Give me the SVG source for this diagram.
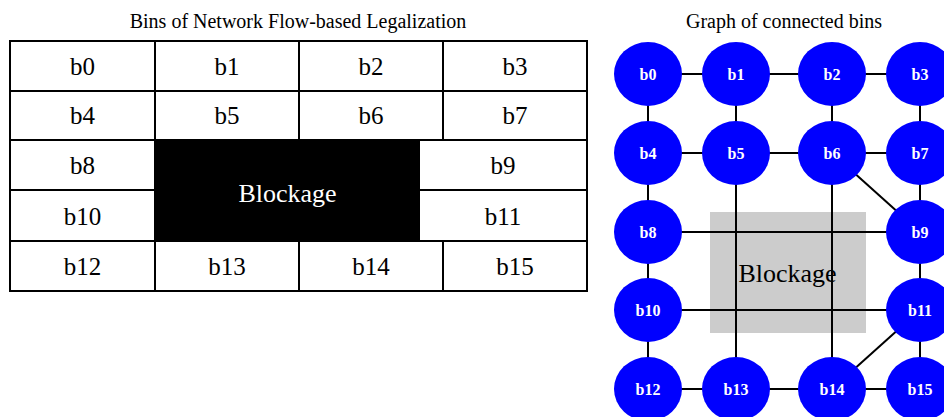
<svg xmlns="http://www.w3.org/2000/svg" width="944" height="417" viewBox="0 0 944 417">
  <style>
    .title { font-family: "Liberation Serif", "Times New Roman", serif; font-size: 20px; fill: #000; text-anchor: middle; }
    .cell rect { fill: #fff; stroke: #000; stroke-width: 2; }
    .cell text { font-family: "Liberation Serif", "Times New Roman", serif; font-size: 25px; fill: #000; text-anchor: middle; }
    .block-text { font-family: "Liberation Serif", "Times New Roman", serif; font-size: 26px; text-anchor: middle; }
    .edges line { stroke: #000; stroke-width: 2; }
    .node ellipse { fill: #0000ff; }
    .node text { font-family: "Liberation Serif", "Times New Roman", serif; font-size: 16px; font-weight: bold; fill: #fff; text-anchor: middle; }
  </style>

  <!-- Left: bin grid -->
  <text class="title" x="298" y="28">Bins of Network Flow-based Legalization</text>
  <g id="grid">
    <g id="cell-b0" class="cell"><rect x="10" y="41" width="145" height="50"/><text x="82.5" y="75">b0</text></g>
    <g id="cell-b1" class="cell"><rect x="155" y="41" width="144" height="50"/><text x="227" y="75">b1</text></g>
    <g id="cell-b2" class="cell"><rect x="299" y="41" width="144" height="50"/><text x="371" y="75">b2</text></g>
    <g id="cell-b3" class="cell"><rect x="443" y="41" width="144" height="50"/><text x="515" y="75">b3</text></g>
    <g id="cell-b4" class="cell"><rect x="10" y="91" width="145" height="49"/><text x="82.5" y="124">b4</text></g>
    <g id="cell-b5" class="cell"><rect x="155" y="91" width="144" height="49"/><text x="227" y="124">b5</text></g>
    <g id="cell-b6" class="cell"><rect x="299" y="91" width="144" height="49"/><text x="371" y="124">b6</text></g>
    <g id="cell-b7" class="cell"><rect x="443" y="91" width="144" height="49"/><text x="515" y="124">b7</text></g>
    <g id="cell-b8" class="cell"><rect x="10" y="140" width="145" height="50"/><text x="82.5" y="174">b8</text></g>
    <g id="cell-b9" class="cell"><rect x="419" y="140" width="168" height="50"/><text x="503" y="174">b9</text></g>
    <g id="cell-b10" class="cell"><rect x="10" y="190" width="145" height="51"/><text x="82.5" y="225">b10</text></g>
    <g id="cell-b11" class="cell"><rect x="419" y="190" width="168" height="51"/><text x="503" y="225">b11</text></g>
    <g id="cell-b12" class="cell"><rect x="10" y="241" width="145" height="50"/><text x="82.5" y="275">b12</text></g>
    <g id="cell-b13" class="cell"><rect x="155" y="241" width="144" height="50"/><text x="227" y="275">b13</text></g>
    <g id="cell-b14" class="cell"><rect x="299" y="241" width="144" height="50"/><text x="371" y="275">b14</text></g>
    <g id="cell-b15" class="cell"><rect x="443" y="241" width="144" height="50"/><text x="515" y="275">b15</text></g>
    <g id="grid-blockage">
      <rect x="154" y="139.5" width="265.5" height="102" fill="#000"/>
      <text class="block-text" x="287.5" y="202" fill="#fff">Blockage</text>
    </g>
  </g>

  <!-- Right: bin connectivity graph -->
  <text class="title" x="784" y="28">Graph of connected bins</text>
  <g id="graph-blockage">
    <rect x="710" y="212" width="156" height="121" fill="#cccccc"/>
  </g>
  <g id="edges" class="edges">
    <line x1="648" y1="74" x2="920" y2="74"/>
    <line x1="648" y1="153" x2="920" y2="153"/>
    <line x1="648" y1="232" x2="920" y2="232"/>
    <line x1="648" y1="310" x2="920" y2="310"/>
    <line x1="648" y1="389" x2="920" y2="389"/>
    <line x1="648" y1="74" x2="648" y2="389"/>
    <line x1="920" y1="74" x2="920" y2="389"/>
    <line x1="736" y1="74" x2="736" y2="389"/>
    <line x1="832" y1="74" x2="832" y2="389"/>
    <line x1="832" y1="153" x2="920" y2="232"/>
    <line x1="920" y1="310" x2="832" y2="389"/>
  </g>
  <text class="block-text" x="787.5" y="282" fill="#000">Blockage</text>

  <g id="b0" class="node"><ellipse cx="648" cy="74" rx="34" ry="32"/><text x="648" y="80">b0</text></g>
  <g id="b1" class="node"><ellipse cx="736" cy="74" rx="34" ry="32"/><text x="736" y="80">b1</text></g>
  <g id="b2" class="node"><ellipse cx="832" cy="74" rx="34" ry="32"/><text x="832" y="80">b2</text></g>
  <g id="b3" class="node"><ellipse cx="920" cy="74" rx="34" ry="32"/><text x="920" y="80">b3</text></g>
  <g id="b4" class="node"><ellipse cx="648" cy="153" rx="34" ry="32"/><text x="648" y="159">b4</text></g>
  <g id="b5" class="node"><ellipse cx="736" cy="153" rx="34" ry="32"/><text x="736" y="159">b5</text></g>
  <g id="b6" class="node"><ellipse cx="832" cy="153" rx="34" ry="32"/><text x="832" y="159">b6</text></g>
  <g id="b7" class="node"><ellipse cx="920" cy="153" rx="34" ry="32"/><text x="920" y="159">b7</text></g>
  <g id="b8" class="node"><ellipse cx="648" cy="232" rx="34" ry="32"/><text x="648" y="238">b8</text></g>
  <g id="b9" class="node"><ellipse cx="920" cy="232" rx="34" ry="32"/><text x="920" y="238">b9</text></g>
  <g id="b10" class="node"><ellipse cx="648" cy="310" rx="34" ry="32"/><text x="648" y="316">b10</text></g>
  <g id="b11" class="node"><ellipse cx="920" cy="310" rx="34" ry="32"/><text x="920" y="316">b11</text></g>
  <g id="b12" class="node"><ellipse cx="648" cy="389" rx="34" ry="32"/><text x="648" y="395">b12</text></g>
  <g id="b13" class="node"><ellipse cx="736" cy="389" rx="34" ry="32"/><text x="736" y="395">b13</text></g>
  <g id="b14" class="node"><ellipse cx="832" cy="389" rx="34" ry="32"/><text x="832" y="395">b14</text></g>
  <g id="b15" class="node"><ellipse cx="920" cy="389" rx="34" ry="32"/><text x="920" y="395">b15</text></g>
</svg>
